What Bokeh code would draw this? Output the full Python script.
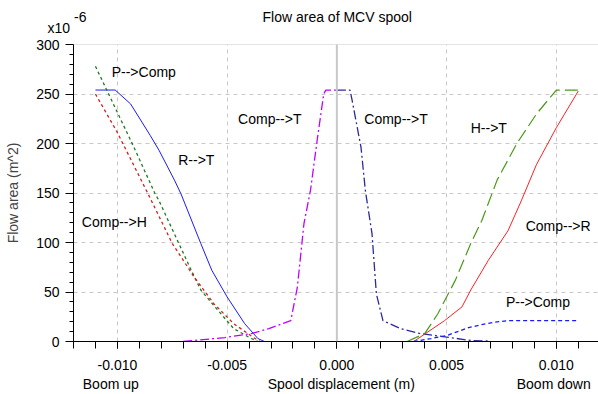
from bokeh.plotting import figure
from bokeh.models import (Range1d, SingleIntervalTicker, FixedTicker, PrintfTickFormatter,
                          Span, Label, LinearAxis, Title)
from bokeh.embed import file_html
from bokeh.resources import INLINE

# ---- data (x in m, y in 1e-6 m^2) ----
rt_x = [-0.0110, -0.0101, -0.0094, -0.0085, -0.0081, -0.0074, -0.0071, -0.0062, -0.0057, -0.0050, -0.0042, -0.0036, -0.0033]
rt_y = [254, 254, 240, 208, 193, 163, 149, 99, 72, 45, 18, 3, 0]

pcomp_l_x = [-0.0110, -0.0104, -0.0092, -0.0083, -0.0081, -0.0072, -0.0067, -0.0062, -0.0054, -0.0047, -0.0039, -0.0036]
pcomp_l_y = [278, 250, 194, 150, 142, 99, 75, 52, 31, 13, 3, 0]

comph_x = [-0.0110, -0.0100, -0.0086, -0.0075, -0.0065, -0.0056, -0.0047, -0.0038, -0.0035]
comph_y = [250, 211, 149, 99, 65, 38, 18, 4, 0]

compt_l_x = [-0.0070, -0.0051, -0.0039, -0.0031, -0.0021, -0.0018, -0.0015, -0.0012, -0.0009, -0.0006, -0.0005, 0.0]
compt_l_y = [0, 4, 8, 13, 21, 55, 119, 153, 203, 250, 254, 254]

compt_r_x = [0.0, 0.0006, 0.0007, 0.0011, 0.0013, 0.0016, 0.0018, 0.0021, 0.0029, 0.0038, 0.0050, 0.0061, 0.0070]
compt_r_y = [254, 254, 243, 196, 152, 109, 48, 21, 13, 8, 4.5, 1, 0.5]

ht_x = [0.0032, 0.0040, 0.0046, 0.0054, 0.0061, 0.0066, 0.0073, 0.0082, 0.0091, 0.0100, 0.0110]
ht_y = [0, 8, 28, 62, 99, 122, 163, 200, 230, 254, 254]

compr_x = [0.0035, 0.0049, 0.0057, 0.0061, 0.0069, 0.0078, 0.0084, 0.0091, 0.0100, 0.0110]
compr_y = [0, 21, 35, 52, 82, 112, 142, 179, 216, 253]

pcomp_r_x = [0.0035, 0.0043, 0.0050, 0.0060, 0.0066, 0.0072, 0.0078, 0.0110]
pcomp_r_y = [0, 3, 6, 14, 17, 19.5, 21, 21]

labels_text = ["P-->Comp", "R-->T", "Comp-->H", "Comp-->T", "Comp-->T", "H-->T", "Comp-->R", "P-->Comp"]
labels_x = [-0.01026, -0.00723, -0.01162, -0.00450, 0.00125, 0.00610, 0.00860, 0.00770]
labels_y = [272, 183.5, 120.5, 225, 225, 215.5, 117, 39.7]

# bottom row texts: "Boom up", axis title, "Boom down"
bottom_text = ["Boom up", "Spool displacement (m)", "Boom down"]
bottom_x = [-0.01030, 0.00020, 0.00988]

title_text = "Flow area of MCV spool"
ylabel_text = "Flow area (m^2)"
scale_text = "x10"
scale_exp = "-6"

FONT = "Liberation Sans"
FS = "14px"

p = figure(width=598, height=394, output_backend="svg", toolbar_location=None, title=None,
           x_range=Range1d(-0.012, 0.01192), y_range=Range1d(0, 300),
           min_border_left=73, min_border_right=0, min_border_top=44, min_border_bottom=53)
p.outline_line_color = None
p.background_fill_color = "white"
p.border_fill_color = "white"

xt = SingleIntervalTicker(interval=0.005, num_minor_ticks=5)
yt = SingleIntervalTicker(interval=50, num_minor_ticks=5)
p.xaxis.ticker = xt
p.yaxis.ticker = yt
p.xaxis.formatter = PrintfTickFormatter(format="%.3f")
for ax in (p.xaxis, p.yaxis):
    ax.axis_line_color = "black"
    ax.major_tick_line_color = "black"
    ax.minor_tick_line_color = "black"
    ax.major_tick_in = 0
    ax.minor_tick_in = 0
    ax.major_label_text_font = FONT
    ax.major_label_text_font_size = FS
    ax.major_label_text_color = "black"
p.xaxis.major_tick_out = 7
p.xaxis.minor_tick_out = 7
p.xaxis.major_label_standoff = 11
p.yaxis.major_tick_out = 8
p.yaxis.minor_tick_out = 4
p.yaxis.major_label_standoff = 6
p.yaxis.axis_label = ylabel_text
p.yaxis.axis_label_text_font = FONT
p.yaxis.axis_label_text_font_size = FS
p.yaxis.axis_label_text_font_style = "normal"
p.yaxis.axis_label_standoff = 12

# second row below the x axis: "Boom up" / axis title / "Boom down"
ax2 = LinearAxis(ticker=FixedTicker(ticks=bottom_x),
                 major_label_overrides={v: t for v, t in zip(bottom_x, bottom_text)})
ax2.axis_line_color = None
ax2.major_tick_line_color = None
ax2.minor_tick_line_color = None
ax2.major_tick_out = 0
ax2.major_label_standoff = 3
ax2.major_label_text_font = FONT
ax2.major_label_text_font_size = FS
ax2.major_label_text_color = "black"
p.add_layout(ax2, "below")

p.xgrid.ticker = xt
p.ygrid.ticker = yt
for g in (p.xgrid, p.ygrid):
    g.grid_line_color = "#c8c8c8"
    g.grid_line_dash = "4 4"
    g.grid_line_width = 1

p.add_layout(Span(location=0, dimension="height", line_color="#c8c8c8", line_width=2))
p.add_layout(Span(location=300, dimension="width", line_color="#c8c8c8", line_width=1))

p.line(rt_x, rt_y, line_color="#1a1aff", line_width=1)
p.line(pcomp_l_x, pcomp_l_y, line_color="#1e7a1e", line_width=1.3, line_dash="3 3")
p.line(comph_x, comph_y, line_color="#d02020", line_width=1.3, line_dash="3 3")
p.line(compt_l_x, compt_l_y, line_color="#c000ff", line_width=1.3, line_dash="9 3 2 3")
p.line(compt_r_x, compt_r_y, line_color="#2a2a9a", line_width=1.3, line_dash="9 3 2 3")
p.line(ht_x, ht_y, line_color="#4a9a1a", line_width=1.2, line_dash="13 5")
p.line(compr_x, compr_y, line_color="#ff2020", line_width=1)
p.line(pcomp_r_x, pcomp_r_y, line_color="#1a1aff", line_width=1.3, line_dash="4 3")

for t, x, y in zip(labels_text, labels_x, labels_y):
    p.add_layout(Label(x=x, y=y, text=t, text_font=FONT, text_font_size=FS,
                       text_baseline="middle", text_align="left", text_color="black"))

# texts above the frame as titles
t1 = Title(text=scale_text, align="left", offset=-26, standoff=18,
           text_font=FONT, text_font_size=FS, text_font_style="normal", text_color="black")
t2 = Title(text=scale_exp, align="left", offset=0.5, standoff=-27,
           text_font=FONT, text_font_size=FS, text_font_style="normal", text_color="black")
t3 = Title(text=title_text, align="left", offset=189, standoff=-33,
           text_font=FONT, text_font_size=FS, text_font_style="normal", text_color="black")
p.add_layout(t1, "above")
p.add_layout(t2, "above")
p.add_layout(t3, "above")

open("out.html", "w").write(file_html(p, INLINE))
